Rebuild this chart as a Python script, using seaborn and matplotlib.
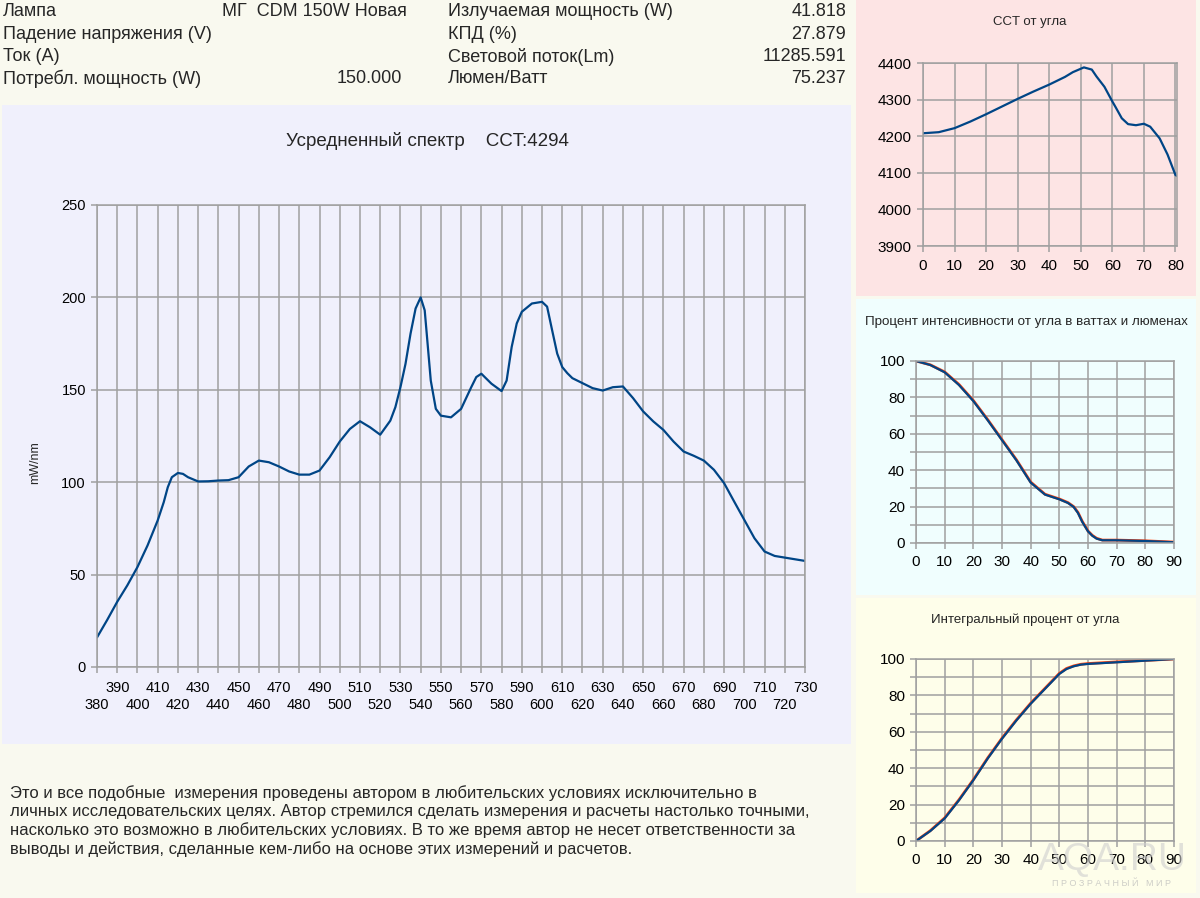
import matplotlib

matplotlib.use("Agg")
import matplotlib.pyplot as plt
import seaborn as sns
from matplotlib.patches import Rectangle
from matplotlib.ticker import MultipleLocator

W, H = 1200, 898

# --- averaged spectrum (mW/nm) ---
wavelength_nm = [380, 385, 390, 395, 400, 405, 410, 413, 415, 417, 420, 422.5, 425, 430,
                 435, 440, 445, 450, 455, 460, 465, 470, 475, 480, 485, 490, 495, 500,
                 505, 510, 515, 520, 525, 527.5, 530, 532.5, 535, 537.5, 540, 542, 543,
                 545, 547.5, 550, 555, 560, 565, 567.5, 570, 575, 580, 582.5, 585, 587.5,
                 590, 595, 600, 602.5, 605, 607.5, 610, 612.5, 615, 620, 625, 630, 635,
                 640, 645, 650, 655, 660, 665, 670, 675, 680, 685, 690, 695, 700, 705,
                 710, 715, 720, 725, 730]
spectrum_mw = [16, 25.4, 35.3, 44.2, 54.1, 65.8, 79.3, 89.2, 97.3, 102.7, 105, 104.5, 102.7,
               100.4, 100.5, 100.9, 101.1, 102.7, 108.5, 111.7, 110.8, 108.5, 105.8, 104.1,
               104.1, 106.3, 113.5, 122, 128.8, 133, 129.7, 125.7, 133.3, 140.6, 151.4, 164,
               180.4, 194, 200, 193, 180.4, 155, 139.7, 136, 135.1, 139.7, 151.4, 156.9,
               158.7, 153.3, 149.3, 155, 173.2, 185.9, 192.2, 196.7, 197.6, 195, 182.2,
               169.6, 162.3, 159, 156.3, 153.6, 150.9, 149.6, 151.4, 151.8, 145.5, 138.3,
               132.9, 128.3, 122, 116.6, 114.3, 111.7, 106.7, 99.5, 89.5, 79.6, 69.7, 62.5,
               60.1, 59.2, 58.3, 57.4]

# --- CCT vs angle ---
cct_angle = [0, 5, 10, 15, 20, 25, 30, 35, 40, 45, 47.5, 51, 53.5, 55, 57.5, 60, 61,
             63, 65, 67.5, 70, 72, 75, 77.5, 80, 81]
cct_value = [4208, 4211, 4222, 4240, 4260, 4281, 4302, 4322, 4341, 4362, 4375, 4388,
             4382, 4363, 4335, 4295, 4280, 4249, 4233, 4230, 4234, 4226, 4194, 4150,
             4094, 4089]

# --- intensity percent vs angle (watts / lumens) ---
int_angle = [0, 5, 10, 15, 20, 25, 30, 35, 40, 45, 50, 53, 55, 56.5, 58, 60, 61.5, 63,
             65, 70, 80, 90]
int_watts = [100, 97.8, 93.8, 86.8, 78, 67.5, 56.5, 45.5, 33.2, 26.6, 24, 22, 19.8, 16.5,
             11.6, 6.4, 4, 2.4, 1.5, 1.5, 1.1, 0.4]
int_lumens = [100, 97.9, 94.0, 87.1, 78.3, 67.8, 56.8, 45.8, 33.5, 26.8, 24.2, 22.2, 20.0,
              16.8, 11.9, 6.6, 4.2, 2.6, 1.6, 1.6, 1.2, 0.5]

# --- integral percent vs angle ---
cum_angle = [0, 5, 10, 15, 20, 25, 30, 35, 40, 45, 50, 52.5, 55, 57.5, 60, 70, 80, 90]
cum_watts = [0, 5.5, 12.4, 22.4, 33.4, 45.3, 56.2, 66.2, 75.4, 83.6, 91.8, 94.5, 96,
             96.9, 97.3, 98.2, 99.1, 100]
cum_lumens = [0, 5.7, 12.7, 22.7, 33.7, 45.6, 56.5, 66.5, 75.7, 83.9, 92.1, 94.8, 96.2,
              97.1, 97.5, 98.4, 99.2, 100]

header_left = [("Лампа", "МГ  CDM 150W Новая"), ("Падение напряжения (V)", ""),
               ("Ток (A)", ""), ("Потребл. мощность (W)", "150.000")]
header_right = [("Излучаемая мощность (W)", "41.818"), ("КПД (%)", "27.879"),
                ("Световой поток(Lm)", "11285.591"), ("Люмен/Ватт", "75.237")]
disclaimer = [
    "Это и все подобные  измерения проведены автором в любительских условиях исключительно в",
    "личных исследовательских целях. Автор стремился сделать измерения и расчеты настолько точными,",
    "насколько это возможно в любительских условиях. В то же время автор не несет ответственности за",
    "выводы и действия, сделанные кем-либо на основе этих измерений и расчетов.",
]

BLUE = "#004586"
ORANGE = "#FF420E"
GRID = "#A0A0A0"

sns.set_theme(style="whitegrid")
plt.rcParams["font.family"] = ["Liberation Sans", "DejaVu Sans"]
plt.rcParams["lines.solid_joinstyle"] = "round"
plt.rcParams["lines.solid_capstyle"] = "round"

fig = plt.figure(figsize=(W / 100, H / 100), dpi=100, facecolor="#F9F9EF")


def panel(x, y, w, h, color):
    fig.add_artist(Rectangle((x / W, 1 - (y + h) / H), w / W, h / H,
                             transform=fig.transFigure, facecolor=color,
                             edgecolor="none", zorder=-10))


def px_axes(left, top, right, bottom, color):
    ax = fig.add_axes([left / W, 1 - bottom / H, (right - left) / W, (bottom - top) / H])
    ax.set_facecolor(color)
    return ax


def ftext(x, y, s, **kw):
    fig.text(x / W, 1 - y / H, s, **kw)


def style(ax, size, pad_x, pad_y):
    ax.grid(True, which="both", color=GRID, linewidth=1.1)
    for sp in ax.spines.values():
        sp.set_color(GRID)
        sp.set_linewidth(1.1)
    ax.tick_params(which="both", bottom=True, left=True, direction="out", length=4,
                   width=1.1, color=GRID, labelcolor="black", labelsize=size)
    ax.tick_params(axis="x", pad=pad_x)
    ax.tick_params(axis="y", pad=pad_y)
    ax.set_xlabel("")
    ax.set_ylabel("")


# panel backgrounds
panel(2, 105, 849, 639, "#F0F0FC")
panel(856, 0, 340, 296, "#FDE4E4")
panel(856, 299, 340, 296, "#F0FEFE")
panel(856, 598, 340, 295, "#FEFEEA")

# header
for i, (lab, val) in enumerate(header_left):
    y = 12 + i * 22.3
    ftext(3, y, lab, fontsize=13, va="center")
    if val:
        if i == 0:
            ftext(222, y, val, fontsize=13, va="center")
        else:
            ftext(402, y, val, fontsize=13, va="center", ha="right")
for i, (lab, val) in enumerate(header_right):
    y = 12 + i * 22.3
    ftext(448, y, lab, fontsize=13, va="center")
    ftext(846, y, val, fontsize=13, va="center", ha="right")

# main spectrum
ax = px_axes(97, 205, 805, 667, "#F0F0FC")
sns.lineplot(x=wavelength_nm, y=spectrum_mw, ax=ax, color=BLUE, linewidth=1.6)
ax.set_xlim(380, 730)
ax.set_ylim(0, 250)
ax.set_xticks(range(380, 731, 10))
ax.set_xticklabels([str(v) if (v // 10) % 2 else "\n" + str(v) for v in range(380, 731, 10)],
                   linespacing=1.25)
ax.set_yticks(range(0, 251, 50))
style(ax, 10.5, 6, 4)
ftext(427, 141, "Усредненный спектр    CCT:4294", fontsize=13.5, ha="center", va="center")
ftext(35, 463, "mW/nm", fontsize=9, rotation=90, ha="center", va="center")

# CCT vs angle
ax1 = px_axes(923, 63, 1177, 246, "#FDE4E4")
sns.lineplot(x=cct_angle, y=cct_value, ax=ax1, color=BLUE, linewidth=1.6)
ax1.set_xlim(0, 80.5)
ax1.set_ylim(3900, 4400)
ax1.set_xticks(range(0, 81, 10))
ax1.set_yticks(range(3900, 4401, 100))
style(ax1, 11, 5, 4)
ftext(1030, 22, "CCT от угла", fontsize=9.5, ha="center", va="center")

# intensity vs angle
ax2 = px_axes(916, 361, 1174, 543, "#F0FEFE")
sns.lineplot(x=int_angle, y=int_lumens, ax=ax2, color=ORANGE, linewidth=2.0)
sns.lineplot(x=int_angle, y=int_watts, ax=ax2, color=BLUE, linewidth=1.6)
ax2.set_xlim(0, 90)
ax2.set_ylim(0, 100)
ax2.set_xticks(range(0, 91, 10))
ax2.yaxis.set_major_locator(MultipleLocator(20))
ax2.yaxis.set_minor_locator(MultipleLocator(10))
style(ax2, 11, 5, 4)
ftext(1026, 322, "Процент интенсивности от угла в ваттах и люменах", fontsize=9.6,
      ha="center", va="center")

# integral percent vs angle
ax3 = px_axes(916, 659, 1174, 841, "#FEFEEA")
sns.lineplot(x=cum_angle, y=cum_lumens, ax=ax3, color=ORANGE, linewidth=2.0)
sns.lineplot(x=cum_angle, y=cum_watts, ax=ax3, color=BLUE, linewidth=1.6)
ax3.set_xlim(0, 90)
ax3.set_ylim(0, 100)
ax3.set_xticks(range(0, 91, 10))
ax3.yaxis.set_major_locator(MultipleLocator(20))
ax3.yaxis.set_minor_locator(MultipleLocator(10))
style(ax3, 11, 5, 4)
ftext(1025, 620, "Интегральный процент от угла", fontsize=9.5, ha="center", va="center")

# disclaimer
for i, line in enumerate(disclaimer):
    ftext(10, 793 + i * 18.7, line, fontsize=12, va="center")

# watermark
ftext(1112, 860, "AQA.RU", fontsize=28, color="#CFCFCF", alpha=0.6,
      ha="center", va="center")
ftext(1112, 884, "П Р О З Р А Ч Н Ы Й   М И Р", fontsize=6.5, color="#B8B8B8", alpha=0.7,
      ha="center", va="center")

fig.savefig("out.png", dpi=100, facecolor=fig.get_facecolor())
